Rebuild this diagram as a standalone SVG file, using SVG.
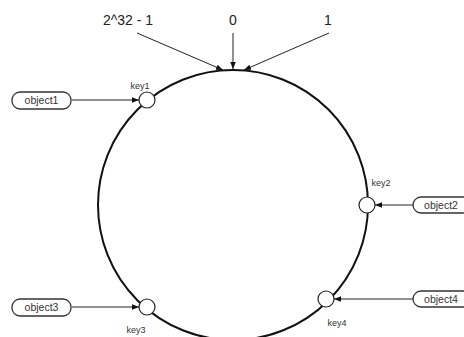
<svg xmlns="http://www.w3.org/2000/svg" width="464" height="337" viewBox="0 0 464 337">
<style>
.lbl{font-family:"Liberation Sans",Arial,sans-serif;font-size:14px;fill:#222;text-anchor:middle}
.key{font-family:"Liberation Sans",Arial,sans-serif;font-size:9px;fill:#333;text-anchor:middle}
.obj{font-family:"Liberation Sans",Arial,sans-serif;font-size:10.5px;fill:#333;text-anchor:middle}
.pill{fill:#fff;stroke:#333;stroke-width:1.3}
.node{fill:#fff;stroke:#222;stroke-width:1.2}
.ln{stroke:#222;stroke-width:1;fill:none}
</style>
<defs>
<marker id="ah" viewBox="0 0 10 10" refX="10" refY="5" markerWidth="7" markerHeight="7" orient="auto" markerUnits="userSpaceOnUse">
<path d="M0,1 L10,5 L0,9 z" fill="#111"/>
</marker>
</defs>
<rect width="464" height="337" fill="#fff"/>
<circle cx="233" cy="205" r="135" fill="none" stroke="#111" stroke-width="2"/>
<g id="labels">
<text class="lbl" x="128" y="25">2^32 - 1</text>
<text class="lbl" x="233" y="25">0</text>
<text class="lbl" x="328" y="25">1</text>
</g>
<g id="connectors">
<line class="ln" x1="137" y1="33" x2="223" y2="70" marker-end="url(#ah)"/>
<line class="ln" x1="233" y1="33" x2="233" y2="69" marker-end="url(#ah)"/>
<line class="ln" x1="329" y1="33" x2="244" y2="70" marker-end="url(#ah)"/>
<line class="ln" x1="72" y1="100" x2="139" y2="100" marker-end="url(#ah)"/>
<line class="ln" x1="413" y1="205" x2="375" y2="205" marker-end="url(#ah)"/>
<line class="ln" x1="72" y1="307" x2="139" y2="307" marker-end="url(#ah)"/>
<line class="ln" x1="413" y1="299" x2="334" y2="299" marker-end="url(#ah)"/>
</g>
<g id="key1"><circle class="node" cx="147" cy="100" r="8"/><text class="key" x="140" y="89">key1</text></g>
<g id="key2"><circle class="node" cx="367" cy="205" r="8"/><text class="key" x="381" y="186">key2</text></g>
<g id="key3"><circle class="node" cx="147" cy="307" r="8"/><text class="key" x="136" y="333">key3</text></g>
<g id="key4"><circle class="node" cx="326" cy="299" r="8"/><text class="key" x="337" y="326">key4</text></g>
<g id="object1"><rect class="pill" x="12" y="92" width="59" height="17" rx="8"/><text class="obj" x="41.5" y="104">object1</text></g>
<g id="object2"><rect class="pill" x="413" y="197" width="59" height="16" rx="8"/><text class="obj" x="441" y="209">object2</text></g>
<g id="object3"><rect class="pill" x="12" y="299" width="59" height="17" rx="8"/><text class="obj" x="41.5" y="311">object3</text></g>
<g id="object4"><rect class="pill" x="413" y="291" width="59" height="16" rx="8"/><text class="obj" x="441" y="303">object4</text></g>
</svg>
